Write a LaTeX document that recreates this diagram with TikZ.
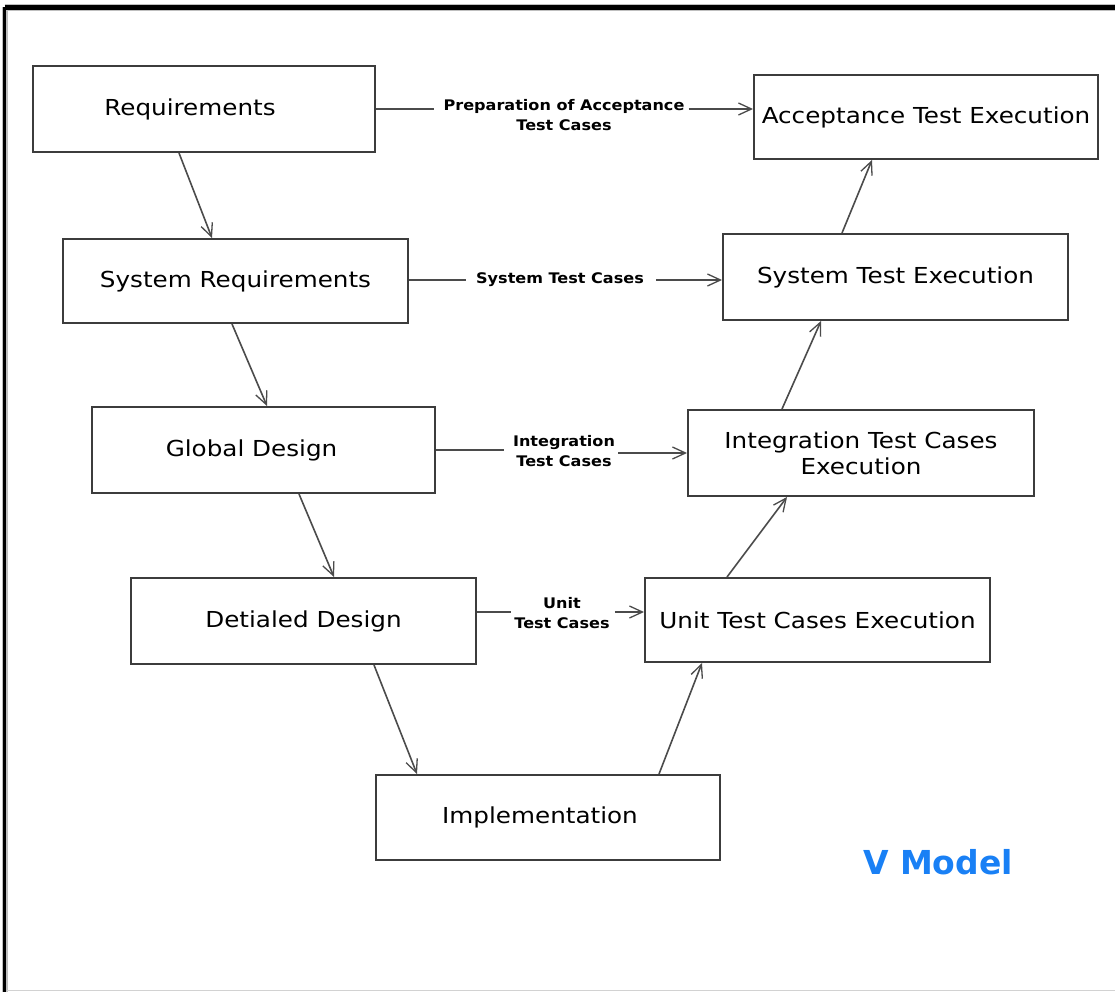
\documentclass[tikz,border=0pt]{standalone}
\usepackage{fontspec}
\usetikzlibrary{arrows.meta,calc}
\newfontfamily\boxfont[FakeStretch=1.12]{DejaVu Sans}
\newfontfamily\labfont[FakeStretch=1.1]{DejaVu Sans Bold}
\newfontfamily\titlefont{DejaVu Sans Bold}
\definecolor{boxline}{RGB}{60,60,60}
\definecolor{arrline}{RGB}{75,75,75}
\definecolor{vblue}{RGB}{25,128,245}
\begin{document}
\begin{tikzpicture}[x=1pt,y=-1pt,
  stage/.style={draw=boxline,line width=2pt,rectangle,inner sep=0pt,align=center,
    font=\boxfont\fontsize{22}{26}\selectfont},
  lab/.style={inner sep=0pt,align=center,font=\labfont\fontsize{14.6}{20}\selectfont},
  conn/.style={draw=arrline,line width=1.6pt},
  arr/.style={conn,-{Straight Barb[length=13pt,width=12pt,line width=1.3pt]}}]
\useasboundingbox (0,0) rectangle (1115,992);
% frame
\draw[gray!50,line width=7pt] (4.5,7.5) -- (1115,7.5);
\draw[gray!50,line width=6pt] (4.5,7.5) -- (4.5,992);
\draw[black,line width=4.5pt] (4.5,7.5) -- (1115,7.5);
\draw[black,line width=3.5pt] (4.5,7.5) -- (4.5,992);
\draw[gray!35,line width=1.5pt] (7,990.5) -- (1115,990.5);
% boxes
\node[stage,minimum width=342pt,minimum height=86pt] (req) at (204,109) {\hspace*{-28pt}Requirements};
\node[stage,minimum width=344pt,minimum height=84pt] (acc) at (926,117) {Acceptance Test Execution};
\node[stage,minimum width=345pt,minimum height=84pt] (sysreq) at (235.5,281) {System Requirements};
\node[stage,minimum width=345pt,minimum height=86pt] (ste) at (895.5,277) {System Test Execution};
\node[stage,minimum width=343pt,minimum height=86pt] (gd) at (263.5,450) {\hspace*{-24pt}Global Design};
\node[stage,minimum width=346pt,minimum height=86pt] (itce) at (861,453) {Integration Test Cases\\Execution};
\node[stage,minimum width=345pt,minimum height=86pt] (dd) at (303.5,621) {Detialed Design};
\node[stage,minimum width=345pt,minimum height=84pt] (ute) at (817.5,620) {Unit Test Cases Execution};
\node[stage,minimum width=344pt,minimum height=85pt] (impl) at (548,817.5) {\hspace*{-16pt}Implementation};
% labels
\node[lab] (l1) at (564,115) {Preparation of Acceptance\\Test Cases};
\node[lab] (l2) at (560,280) {System Test Cases};
\node[lab] (l3) at (564,451) {Integration\\Test Cases};
\node[lab] (l4) at (562,613) {Unit\\Test Cases};
% title
\node[font=\titlefont\fontsize{33}{38}\selectfont,text=vblue,inner sep=0pt] (vm) at (938,862) {V Model};
% horizontal connectors
\coordinate (h1) at (0,109);
\draw[conn] (req.east |- h1) -- ([xshift=-9pt]l1.west |- h1);
\draw[arr] ([xshift=4pt]l1.east |- h1) -- (acc.west |- h1);
\coordinate (h2) at (0,280);
\draw[conn] (sysreq.east |- h2) -- ([xshift=-10pt]l2.west |- h2);
\draw[arr] ([xshift=12pt]l2.east |- h2) -- (ste.west |- h2);
\coordinate (h3a) at (0,450);
\coordinate (h3b) at (0,453);
\draw[conn,line width=1.2pt] (gd.east |- h3a) -- ([xshift=-9pt]l3.west |- h3a);
\draw[arr] ([xshift=3pt]l3.east |- h3b) -- (itce.west |- h3b);
\coordinate (h4) at (0,612);
\draw[conn,line width=1.2pt] (dd.east |- h4) -- ([xshift=-3pt]l4.west |- h4);
\draw[arr] ([xshift=5pt]l4.east |- h4) -- (ute.west |- h4);
% diagonal arrows
\draw[arr] ([xshift=147pt]req.south west) -- ([xshift=150pt]sysreq.north west);
\draw[arr] ([xshift=170pt]sysreq.south west) -- ([xshift=176pt]gd.north west);
\draw[arr] ([xshift=208pt]gd.south west) -- ([xshift=204pt]dd.north west);
\draw[arr] ([xshift=244pt]dd.south west) -- ([xshift=42pt]impl.north west);
\draw[arr] ([xshift=284pt]impl.north west) -- ([xshift=58pt]ute.south west);
\draw[arr] ([xshift=83pt]ute.north west) -- ([xshift=100pt]itce.south west);
\draw[arr] ([xshift=95pt]itce.north west) -- ([xshift=99pt]ste.south west);
\draw[arr] ([xshift=120pt]ste.north west) -- ([xshift=119pt]acc.south west);
\end{tikzpicture}
\end{document}
